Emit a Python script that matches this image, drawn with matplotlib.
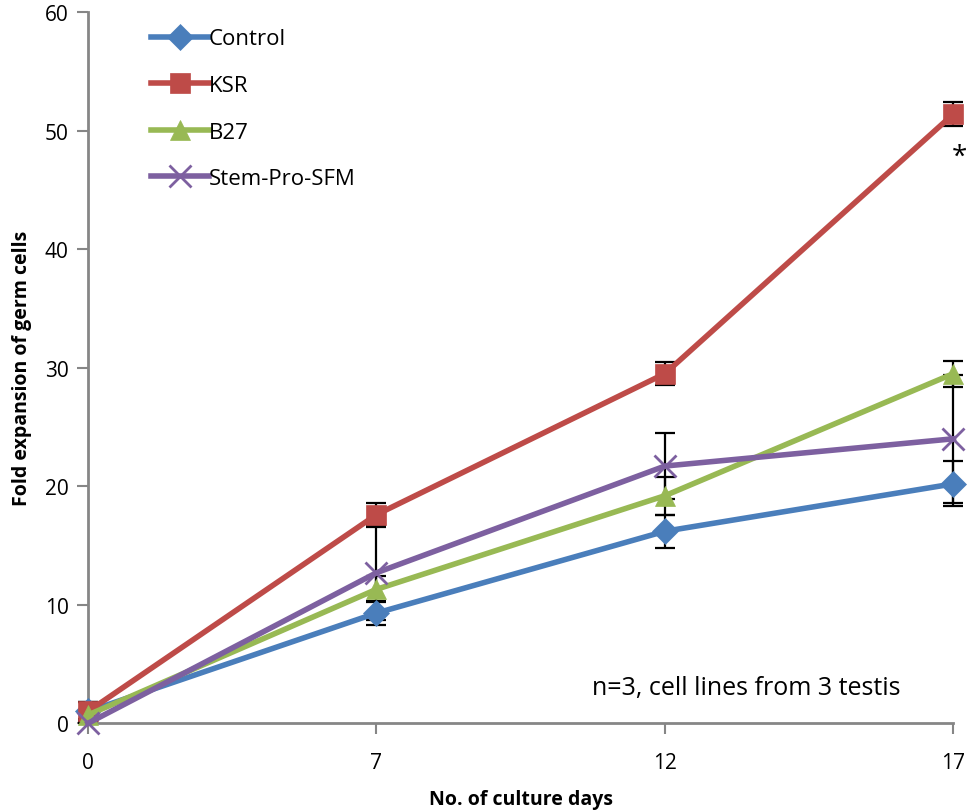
import matplotlib.pyplot as plt

# Data
days = ['0', '7', '12', '17']
control = [1.0, 9.3, 16.2, 20.2]
control_err = [0.8, 1.0, 1.4, 1.9]
ksr = [1.0, 17.6, 29.5, 51.4]
ksr_err = [0.8, 1.0, 1.0, 1.0]
b27 = [0.7, 11.3, 19.2, 29.5]
b27_err = [0.3, 1.1, 1.6, 1.1]
stem = [0.0, 12.7, 21.7, 24.0]
stem_err = [0.0, 4.0, 2.8, 5.4]

plt.rcParams['font.family'] = ['Open Sans', 'DejaVu Sans']

fig = plt.figure(figsize=(9.67, 8.12), dpi=100)
ax = fig.add_axes([0.091, 0.108, 0.895, 0.876])

x = list(range(len(days)))
series = [
    ('Control', control, control_err, '#4A7EBB', 'D', 13),
    ('KSR', ksr, ksr_err, '#BE4B48', 's', 15),
    ('B27', b27, b27_err, '#98B954', '^', 15),
    ('Stem-Pro-SFM', stem, stem_err, '#7D60A0', 'x', 16),
]

# error bars behind the lines
for name, vals, err, col, mk, ms in series:
    ax.errorbar(x, vals, yerr=err, fmt='none', ecolor='black', elinewidth=1.6,
                capsize=7, capthick=1.6, zorder=2, clip_on=False)

for name, vals, err, col, mk, ms in series:
    ax.plot(x, vals, color=col, marker=mk, markersize=ms, linewidth=4,
            markeredgewidth=2 if mk == 'x' else 0.5, markeredgecolor=col,
            label=name, zorder=3, clip_on=False)

ax.set_xlim(0, 3)
ax.set_ylim(0, 60)
ax.set_xticks(x)
ax.set_xticklabels(days)
ax.set_yticks(range(0, 61, 10))
ax.tick_params(axis='both', labelsize=15, color='#868686', length=8, width=1.5, pad=6)
ax.tick_params(axis='x', pad=13)
for side in ['top', 'right']:
    ax.spines[side].set_visible(False)
for side in ['left', 'bottom']:
    ax.spines[side].set_color('#868686')
    ax.spines[side].set_linewidth(2)

ax.set_xlabel('No. of culture days', fontsize=14, fontweight='bold', labelpad=11)
ax.set_ylabel('Fold expansion of germ cells', fontsize=14, fontweight='bold', labelpad=9)

ax.legend(loc='upper left', bbox_to_anchor=(0.05, 1.005), frameon=False, fontsize=16,
          handlelength=2.6, handletextpad=0.0, labelspacing=1.15)

ax.text(2.28, 3.0, 'n=3, cell lines from 3 testis', fontsize=18, ha='center', va='center')
ax.text(3.02, 47.2, '*', fontsize=20, ha='center')

plt.savefig('out.png', dpi=100)
